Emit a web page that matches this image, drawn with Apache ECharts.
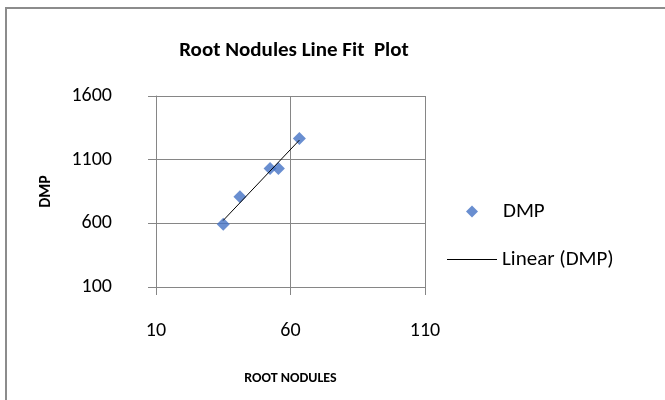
<!DOCTYPE html>
<html>
<head>
<meta charset="utf-8">
<script src="https://cdn.jsdelivr.net/npm/echarts@6/dist/echarts.min.js"></script>
<style>
html,body{margin:0;padding:0;background:#fff;}
#chart{width:665px;height:400px;}
</style>
</head>
<body>
<div id="chart"></div>
<script>
// Data
const rootNodules = [35.0, 41.2, 52.4, 55.5, 63.3];
const dmp = [592, 808, 1031, 1031, 1266];
const xTicks = [10, 60, 110];
const yTicks = [100, 600, 1100, 1600];
const seriesName = 'DMP';
const trendName = 'Linear (DMP)';

// Least squares trend line
const n = rootNodules.length;
const mx = rootNodules.reduce((a, b) => a + b, 0) / n;
const my = dmp.reduce((a, b) => a + b, 0) / n;
let sxy = 0, sxx = 0;
for (let i = 0; i < n; i++) {
  sxy += (rootNodules[i] - mx) * (dmp[i] - my);
  sxx += (rootNodules[i] - mx) * (rootNodules[i] - mx);
}
const slope = sxy / sxx;
const intercept = my - slope * mx;
const xMin = Math.min(...rootNodules), xMax = Math.max(...rootNodules);
const trend = [[xMin, intercept + slope * xMin], [xMax, intercept + slope * xMax]];

const font = 'Calibri, Carlito, "Open Sans", "Noto Sans", sans-serif';
const gridColor = '#868686';
const labelSize = 20;
const legendSize = 21;

const chart = echarts.init(document.getElementById('chart'), null, {renderer: 'canvas'});
chart.setOption({
  backgroundColor: '#fff',
  animation: false,
  textStyle: {fontFamily: font},
  graphic: [{
    type: 'rect',
    shape: {x: 6, y: 8, width: 700, height: 420},
    style: {fill: 'none', stroke: '#8c8c8c', lineWidth: 2},
    silent: true
  }],
  title: {
    text: 'Root Nodules Line Fit  Plot',
    left: 289, top: 35, textAlign: 'center',
    textStyle: {fontFamily: font, fontSize: 21, fontWeight: 'bold', color: '#000'}
  },
  legend: [
    {
      orient: 'vertical', left: 466, top: 201, padding: 0,
      itemWidth: 12, itemHeight: 12,
      formatter: name => '{t|' + name + '}',
      textStyle: {fontFamily: font, fontSize: legendSize, color: '#000',
        rich: {t: {fontFamily: font, fontSize: legendSize, color: '#000', padding: [0, 0, 0, 20]}}},
      data: [{name: seriesName, icon: 'diamond'}]
    },
    {
      orient: 'vertical', left: 447, top: 249, padding: 0,
      itemWidth: 50, itemHeight: 1,
      textStyle: {fontFamily: font, fontSize: legendSize, color: '#000'},
      data: [{name: trendName, icon: 'rect', itemStyle: {color: '#000'}}]
    }
  ],
  grid: {left: 156, right: 240, top: 96, bottom: 113, containLabel: false},
  xAxis: {
    type: 'value', min: xTicks[0], max: xTicks[xTicks.length - 1], interval: xTicks[1] - xTicks[0],
    name: 'ROOT NODULES', nameLocation: 'middle', nameGap: 84,
    nameTextStyle: {fontFamily: font, fontSize: 14, fontWeight: 'bold', color: '#000'},
    axisLine: {show: true, lineStyle: {color: gridColor, width: 1}},
    axisTick: {show: true, inside: false, length: 8, lineStyle: {color: gridColor}},
    axisLabel: {fontFamily: font, fontSize: labelSize, color: '#000', margin: 34, formatter: v => String(v)},
    splitLine: {show: true, lineStyle: {color: gridColor, width: 1}}
  },
  yAxis: {
    type: 'value', min: yTicks[0], max: yTicks[yTicks.length - 1], interval: yTicks[1] - yTicks[0],
    name: 'DMP', nameLocation: 'middle', nameGap: 102, nameRotate: 90,
    nameTextStyle: {fontFamily: font, fontSize: 16, fontWeight: 'bold', color: '#000'},
    axisLine: {show: true, lineStyle: {color: gridColor, width: 1}},
    axisTick: {show: true, inside: false, length: 8, lineStyle: {color: gridColor}},
    axisLabel: {fontFamily: font, fontSize: labelSize, color: '#000', margin: 44, formatter: v => String(v)},
    splitLine: {show: true, lineStyle: {color: gridColor, width: 1}}
  },
  series: [
    {
      name: seriesName, type: 'scatter', symbol: 'diamond', symbolSize: 13,
      itemStyle: {color: '#4472C4'},
      data: rootNodules.map((x, i) => [x, dmp[i]]), z: 3
    },
    {
      name: trendName, type: 'line', symbol: 'none', showSymbol: false,
      lineStyle: {color: '#000', width: 1},
      itemStyle: {color: '#000'},
      data: trend, z: 4
    }
  ]
});
</script>
</body>
</html>
